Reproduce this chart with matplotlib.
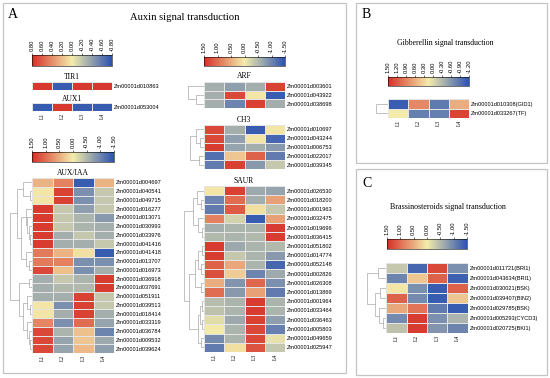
import matplotlib
matplotlib.use('Agg')
import matplotlib.pyplot as plt
import numpy as np
from matplotlib.colors import LinearSegmentedColormap, Normalize
from matplotlib.cm import ScalarMappable
from matplotlib.patches import Rectangle

# ---- data ----
Stages = ['L1', 'L2', 'L3', 'L4']

TIR1_genes = ['Zm00001d010863']
TIR1_vals = [[0.75, -0.75, 0.75, 0.75]]
AUX1_genes = ['Zm00001d053004']
AUX1_vals = [[-0.75, 0.75, -0.75, -0.75]]

AUXIAA_genes = ['Zm00001d004697', 'Zm00001d040541', 'Zm00001d049715', 'Zm00001d016277',
                'Zm00001d013071', 'Zm00001d030993', 'Zm00001d033976', 'Zm00001d041416',
                'Zm00001d041418', 'Zm00001d013707', 'Zm00001d016973', 'Zm00001d036918',
                'Zm00001d037691', 'Zm00001d051911', 'Zm00001d039513', 'Zm00001d018414',
                'Zm00001d033319', 'Zm00001d036784', 'Zm00001d009532', 'Zm00001d039624']
AUXIAA_vals = [[0.45, 0.85, -1.4, 0.45],
               [0.05, 1.35, -0.9, -0.35],
               [0.05, 1.35, -0.9, -0.35],
               [1.4, -0.35, -0.75, -0.35],
               [1.4, -0.35, -0.55, -0.8],
               [1.4, -0.35, -0.55, -0.6],
               [1.4, -0.6, -0.35, -0.6],
               [1.4, -0.6, -0.6, -0.35],
               [0.9, 0.45, 0.1, -1.4],
               [0.9, 0.85, -0.9, -0.9],
               [1.3, 0.35, -0.9, -0.6],
               [-0.6, -0.35, -0.55, 1.4],
               [-0.6, -0.5, -0.5, 1.4],
               [-0.6, -0.6, 1.35, -0.35],
               [0.05, -0.9, 1.35, -0.35],
               [0.05, -0.6, 1.35, -0.6],
               [0.8, -0.9, 1.0, -0.7],
               [1.3, -0.55, 0.35, -1.0],
               [1.3, -0.7, 0.3, -0.65],
               [1.3, -0.7, 0.4, -0.75]]

ARF_genes = ['Zm00001d003601', 'Zm00001d043922', 'Zm00001d038698']
ARF_vals = [[-0.6, -0.75, -0.6, 1.35],
            [-0.6, 1.3, 0.05, -1.4],
            [-0.6, -1.0, 1.35, -0.6]]

CH3_genes = ['Zm00001d010697', 'Zm00001d043244', 'Zm00001d006753', 'Zm00001d022017', 'Zm00001d039345']
CH3_vals = [[1.3, -0.6, -1.4, 0.05],
            [1.3, -0.75, 0.05, -1.3],
            [1.4, -0.7, -0.6, -0.8],
            [-1.2, 0.3, 1.1, -1.1],
            [-1.1, 1.35, -0.8, -0.35]]

SAUR_genes = ['Zm00001d026530', 'Zm00001d018200', 'Zm00001d001963', 'Zm00001d032475',
              'Zm00001d019696', 'Zm00001d036415', 'Zm00001d051802', 'Zm00001d014774',
              'Zm00001d052148', 'Zm00001d002826', 'Zm00001d026308', 'Zm00001d013869',
              'Zm00001d001964', 'Zm00001d033464', 'Zm00001d036463', 'Zm00001d005803',
              'Zm00001d049659', 'Zm00001d025947']
SAUR_vals = [[0.05, 1.35, -0.65, -0.7],
             [-1.0, 1.0, -0.6, 0.6],
             [-1.1, 1.15, 0.1, -0.35],
             [0.85, -0.25, -1.4, 0.6],
             [-0.6, -0.55, -0.55, 1.4],
             [-0.5, -0.55, -0.5, 1.4],
             [1.4, -0.65, -0.55, -0.5],
             [1.4, -0.35, -0.55, -0.8],
             [1.1, 0.55, -0.55, -1.3],
             [1.25, 0.25, -1.0, -0.65],
             [0.5, -0.85, 1.05, -0.9],
             [1.0, -0.8, 0.6, -1.1],
             [-0.45, -0.55, 1.4, -0.55],
             [-0.4, -0.55, 1.4, -0.55],
             [-0.15, -0.65, 1.35, -0.75],
             [0.0, -0.55, 1.3, -1.05],
             [-0.95, -0.55, 1.3, -0.1],
             [-1.1, 0.1, 1.2, -0.35]]

GA_genes = ['Zm00001d010308(GID1)', 'Zm00001d033267(TF)']
GA_vals = [[-1.1, 0.85, -0.85, 0.6],
           [0.15, -0.8, -0.8, 1.35]]

BR_genes = ['Zm00001d011721(BRI1)', 'Zm00001d043634(BRI1)', 'Zm00001d030021(BSK)',
            'Zm00001d039407(BIN2)', 'Zm00001d029785(BSK)', 'Zm00001d005293(CYCD3)',
            'Zm00001d020725(BKI1)']
BR_vals = [[-0.35, -1.3, 1.3, -0.9],
           [-1.0, 0.3, 1.1, -1.35],
           [0.05, -0.9, -1.4, 1.1],
           [1.1, -0.95, -1.4, 0.3],
           [0.55, 0.95, -1.1, -1.4],
           [-0.95, 1.4, -0.9, -0.55],
           [-0.4, 1.4, -0.85, -1.0]]

# cluster trees: [left, right, height]
ARF_tree = [0, [1, 2, 0.5], 1.0]
CH3_tree = [[0, [1, 2, 0.3], 0.6], [3, 4, 0.4], 1.0]
AUXIAA_tree = [[[0, [1, 2, 0.08], 0.4],
                [[3, [4, [5, [6, 7, 0.08], 0.15], 0.22], 0.3], [8, [9, 10, 0.15], 0.3], 0.5], 0.7],
               [[11, 12, 0.12], [[13, [14, 15, 0.08], 0.25], [16, [17, [18, 19, 0.08], 0.15], 0.25], 0.4], 0.6],
               1.0]
SAUR_tree = [[[0, [1, 2, 0.15], 0.35], [3, [4, 5, 0.08], 0.3], 0.55],
             [[[[6, 7, 0.12], [8, 9, 0.15], 0.3], [10, 11, 0.15], 0.45],
              [[[12, 13, 0.08], [14, 15, 0.1], 0.2], [16, 17, 0.15], 0.3], 0.75], 1.0]
GA_tree = [0, 1, 1.0]
BR_tree = [[0, 1, 0.45], [[2, 3, 0.3], [4, [5, 6, 0.15], 0.35], 0.6], 1.0]

# ---- drawing ----
W, H = 550, 378
fig = plt.figure(figsize=(W / 100, H / 100), dpi=100)
fig.patch.set_facecolor('white')

# low -> blue, mid -> pale yellow, high -> red
cmap = LinearSegmentedColormap.from_list('byr', ['#2b52b0', '#f4ecab', '#d62f27'])
SERIF = 'Liberation Serif'
SANS = 'Liberation Sans'


def box(x0, y0, x1, y1):
    return fig.add_axes([x0 / W, 1 - y1 / H, (x1 - x0) / W, (y1 - y0) / H])


def panel(x0, y0, x1, y1):
    fig.add_artist(Rectangle((x0 / W, 1 - y1 / H), (x1 - x0) / W, (y1 - y0) / H,
                             transform=fig.transFigure, fill=False, ec='#c4c4c4', lw=0.9))


def ftext(x, y, s, **kw):
    fig.text(x / W, 1 - y / H, s, **kw)


def colorbar(x0, y0, x1, y1, vmax, vmin, ticks):
    cax = box(x0, y0, x1, y1)
    sm = ScalarMappable(norm=Normalize(vmin, vmax), cmap=cmap)
    cb = fig.colorbar(sm, cax=cax, orientation='horizontal', ticks=ticks)
    cax.invert_xaxis()  # red (high) on the left
    cax.xaxis.set_ticks_position('top')
    cb.set_ticklabels(['%.2f' % t for t in ticks])
    cax.tick_params(labelsize=4.2, length=1.8, width=0.4, pad=0.8, labelrotation=90)
    for lb in cax.get_xticklabels():
        lb.set_family(SANS)
    cb.outline.set_linewidth(0.4)
    return cax


def heatmap(x0, y0, x1, y1, vals, genes, vmax, vmin, xlabels=False):
    ax = box(x0, y0, x1, y1)
    data = np.array(vals)
    ax.pcolormesh(data, cmap=cmap, norm=Normalize(vmin, vmax), edgecolors='#e4e4e4', linewidth=0.5)
    ax.set_xlim(0, data.shape[1])
    ax.set_ylim(data.shape[0], 0)
    ax.yaxis.tick_right()
    ax.set_yticks(np.arange(len(genes)) + 0.5)
    ax.set_yticklabels(genes, fontsize=4.1, family=SANS)
    if xlabels:
        ax.set_xticks(np.arange(len(Stages)) + 0.5)
        ax.set_xticklabels(Stages, fontsize=4, family=SERIF, rotation=90)
    else:
        ax.set_xticks([])
    ax.tick_params(length=0, pad=1.5)
    for s in ax.spines.values():
        s.set_visible(False)
    return ax


def draw_tree(ax, node):
    if not isinstance(node, list):
        return node + 0.5, 0.0
    yl, hl = draw_tree(ax, node[0])
    yr, hr = draw_tree(ax, node[1])
    h = node[2]
    ax.plot([hl, h, h, hr], [yl, yl, yr, yr], color='#a8a8a8', lw=0.5, solid_joinstyle='miter')
    return (yl + yr) / 2, h


def dendro(x0, y0, x1, y1, tree, n):
    ax = box(x0, y0, x1, y1)
    draw_tree(ax, tree)
    ax.set_xlim(1.02, 0)
    ax.set_ylim(n, 0)
    ax.axis('off')


# panel A
panel(3, 3, 346, 373)
ftext(8, 15, 'A', fontsize=10, family=SERIF, va='center')
ftext(185, 17, 'Auxin signal transduction', fontsize=7.6, family=SERIF, ha='center', va='center')

colorbar(32, 55, 112, 66, 0.8, -0.8, [0.8, 0.6, 0.4, 0.2, 0.0, -0.2, -0.4, -0.6, -0.8])
ftext(72, 77, 'TIR1', fontsize=5.5, family=SERIF, ha='center', va='center')
heatmap(32, 82, 112, 90, TIR1_vals, TIR1_genes, 0.8, -0.8)
ftext(72, 99, 'AUX1', fontsize=5.5, family=SERIF, ha='center', va='center')
heatmap(32, 103, 112, 111, AUX1_vals, AUX1_genes, 0.8, -0.8, xlabels=True)

ticks15 = [1.5, 1.0, 0.5, 0.0, -0.5, -1.0, -1.5]
colorbar(32, 152, 114, 162, 1.5, -1.5, ticks15)
ftext(73, 173, 'AUX/IAA', fontsize=5.5, family=SERIF, ha='center', va='center')
heatmap(32, 178, 114, 353, AUXIAA_vals, AUXIAA_genes, 1.5, -1.5, xlabels=True)
dendro(10, 178, 32, 353, AUXIAA_tree, len(AUXIAA_genes))

colorbar(204, 57, 285, 66, 1.5, -1.5, ticks15)
ftext(244, 76, 'ARF', fontsize=5.5, family=SERIF, ha='center', va='center')
heatmap(204, 82, 285, 108, ARF_vals, ARF_genes, 1.5, -1.5)
dendro(188, 82, 204, 108, ARF_tree, len(ARF_genes))
ftext(244, 120, 'CH3', fontsize=5.5, family=SERIF, ha='center', va='center')
heatmap(204, 125, 285, 169, CH3_vals, CH3_genes, 1.5, -1.5)
dendro(190, 125, 204, 169, CH3_tree, len(CH3_genes))
ftext(244, 181, 'SAUR', fontsize=5.5, family=SERIF, ha='center', va='center')
heatmap(204, 186, 285, 352, SAUR_vals, SAUR_genes, 1.5, -1.5, xlabels=True)
dendro(184, 186, 204, 352, SAUR_tree, len(SAUR_genes))

# panel B
panel(356, 3, 547, 163)
ftext(362, 15, 'B', fontsize=10, family=SERIF, va='center')
ftext(445, 43, 'Gibberellin signal transduction', fontsize=5.6, family=SERIF, ha='center', va='center')
colorbar(388, 77, 469, 86, 1.5, -1.2, [1.5, 1.2, 0.9, 0.6, 0.3, 0.0, -0.3, -0.6, -0.9, -1.2])
heatmap(388, 99, 469, 118, GA_vals, GA_genes, 1.5, -1.2, xlabels=True)
dendro(376, 99, 388, 118, GA_tree, len(GA_genes))

# panel C
panel(356, 169, 547, 375)
ftext(362, 183, 'C', fontsize=10, family=SERIF, va='center')
ftext(448, 207, 'Brassinosteroids signal transduction', fontsize=5.8, family=SERIF, ha='center', va='center')
colorbar(387, 239, 467, 249, 1.5, -1.5, ticks15)
heatmap(386, 263, 468, 333, BR_vals, BR_genes, 1.5, -1.5, xlabels=True)
dendro(367, 263, 386, 333, BR_tree, len(BR_genes))

fig.savefig('out.png', dpi=100)
